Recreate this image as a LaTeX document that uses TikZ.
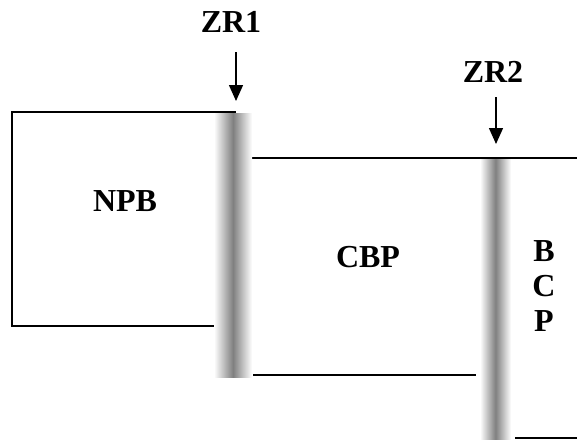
\documentclass[tikz,border=0pt]{standalone}
\usepackage{fontspec}
\setmainfont{Liberation Serif}
\usetikzlibrary{arrows.meta}
\begin{document}
\begin{tikzpicture}[x=1pt,y=-1pt,
  edge/.style={line width=1.6pt},
  lbl/.style={font=\fontsize{32}{34}\selectfont\bfseries, inner sep=0pt, anchor=center},
  zone/.style={left color=white, right color=white, middle color=black!50, draw=none},
  pointer/.style={line width=1.4pt, -{Triangle[width=14pt,length=16pt]}}]
\useasboundingbox (0,0) rectangle (577,439);
% lines
\draw[edge] (236,112) -- (12,112) -- (12,326) -- (214,326);
\draw[edge] (252,158) -- (577,158);
\draw[edge] (253,375) -- (476,375);
\draw[edge] (515,438) -- (577,438);
% gray zones
\shade[zone] (214,113) rectangle (252,377);
\shade[zone] (480,159) rectangle (511,439);
% labels
\node[lbl] (zr1) at (231,22) {ZR1};
\node[lbl] (zr2) at (493,72) {ZR2};
\node[lbl] (npb) at (125,201) {NPB};
\node[lbl] (cbp) at (368,257) {CBP};
\node[lbl, align=center] (bcp) at (544,286) {B\\[1pt]C\\[1pt]P};
% arrows
\coordinate (a1s) at (236,52);
\coordinate (a1e) at (236,101);
\coordinate (a2s) at (496,97);
\coordinate (a2e) at (496,144);
\draw[pointer] (a1s) -- (a1e);
\draw[pointer] (a2s) -- (a2e);
\end{tikzpicture}
\end{document}
